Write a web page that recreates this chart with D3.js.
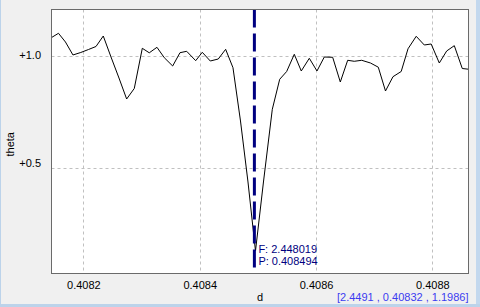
<!DOCTYPE html>
<html><head><meta charset="utf-8">
<script src="https://cdn.jsdelivr.net/npm/d3@7"></script>
<style>
html,body{margin:0;padding:0;background:#f0f0f0;}
svg{display:block;}
text{font-family:"Liberation Sans",Arial,sans-serif;font-size:11px;}
</style></head>
<body>
<svg id="c" width="480" height="307"></svg>
<script>
// period grid (d) and theta values
const dValues = [0.4081448,0.4081572,0.4081692,0.4081821,0.4081955,0.4082088,0.4082217,0.4082342,0.4082475,0.4082612,
0.4082744,0.4082875,0.4083013,0.4083133,0.4083265,0.4083391,0.4083535,0.4083661,0.4083776,0.4083931,
0.4084044,0.4084182,0.4084319,0.4084446,0.4084572,0.4084701,0.4084830,0.4084959,0.4085096,0.4085248,
0.4085375,0.4085495,0.4085626,0.4085746,0.4085884,0.4086016,0.4086142,0.4086286,0.4086417,0.4086544,
0.4086657,0.4086785,0.4086936,0.4087070,0.4087194,0.4087323,0.4087464,0.4087581,0.4087722,0.4087861,
0.4087979,0.4088119,0.4088246,0.4088377,0.4088514,0.4088617];
const thetaValues = [1.0815,1.1011,1.0623,1.0045,1.0156,1.0289,1.0423,1.0890,0.9955,0.9020,
0.8085,0.8553,1.0343,1.0142,1.0387,0.9924,0.9555,1.0147,1.0209,0.9791,
1.0165,0.9777,0.9866,1.0298,0.9479,0.7106,0.4390,0.1318,0.4390,0.7627,
0.8963,0.9310,1.0076,0.9332,0.9898,0.9332,0.9955,0.9942,0.8842,0.9809,
0.9764,0.9809,0.9688,0.9501,0.8442,0.9078,0.9310,1.0321,1.0877,1.0490,
1.0534,0.9688,1.0223,1.0459,0.9443,0.9412];
const xTicks = [0.4082,0.4084,0.4086,0.4088];
const yTicks = [0.5,1.0];
const xDomain = [0.4081452,0.4088621];
const yDomain = [0.0316,1.2070];
const peakP = 0.408494;
const peakF = 2.448019;
const xLabel = "d";
const yLabel = "theta";
const statusText = "[2.4491 , 0.40832 , 1.1986]";

const svg = d3.select("#c");
const L=51.5, R=468.5, T=9.5, B=273.5;
const x = d3.scaleLinear().domain(xDomain).range([L,R]);
const y = d3.scaleLinear().domain(yDomain).range([B,T]);

// window frame accents
svg.append("rect").attr("x",0).attr("y",0).attr("width",480).attr("height",307).attr("fill","#f0f0f0");
svg.append("rect").attr("x",0).attr("y",0).attr("width",1).attr("height",307).attr("fill","#bcd3ea");
svg.append("rect").attr("x",476).attr("y",0).attr("width",4).attr("height",307).attr("fill","#c3d8ee");
svg.append("rect").attr("x",0).attr("y",304).attr("width",480).attr("height",3).attr("fill","#bcd3ea");

// plot area
svg.append("rect").attr("x",L).attr("y",T).attr("width",R-L).attr("height",B-T).attr("fill","#ffffff");

svg.append("defs").append("clipPath").attr("id","clip")
  .append("rect").attr("x",L).attr("y",T).attr("width",R-L).attr("height",B-T);

// grid
const grid = svg.append("g").attr("stroke","#c0c0c0").attr("stroke-dasharray","3,3").attr("stroke-width",1);
grid.selectAll("line.v").data(xTicks).join("line")
  .attr("x1",d=>Math.round(x(d))+0.5).attr("x2",d=>Math.round(x(d))+0.5).attr("y1",T).attr("y2",B);
grid.selectAll("line.h").data(yTicks).join("line")
  .attr("y1",d=>Math.round(y(d))+0.5).attr("y2",d=>Math.round(y(d))+0.5).attr("x1",L).attr("x2",R);

// line
const pts = dValues.map((d,i)=>[d,thetaValues[i]]);
svg.append("path").attr("clip-path","url(#clip)")
  .attr("d", d3.line().x(p=>x(p[0])).y(p=>y(p[1]))(pts))
  .attr("fill","none").attr("stroke","#000").attr("stroke-width",1);

// peak marker
svg.append("line").attr("clip-path","url(#clip)")
  .attr("x1",x(peakP)).attr("x2",x(peakP)).attr("y1",T).attr("y2",B)
  .attr("stroke","#000080").attr("stroke-width",3).attr("stroke-dasharray","18,6");
svg.append("text").attr("x",x(peakP)+4).attr("y",252.5).attr("fill","#000080").text("F: "+peakF.toFixed(6));
svg.append("text").attr("x",x(peakP)+4).attr("y",264.5).attr("fill","#000080").text("P: "+peakP.toFixed(6));

// border
svg.append("rect").attr("x",L).attr("y",T).attr("width",R-L).attr("height",B-T)
  .attr("fill","none").attr("stroke","#6a6a6a").attr("stroke-width",1);

// x axis
const xa = svg.append("g").attr("transform",`translate(0,${B})`)
  .call(d3.axisBottom(x).tickValues(xTicks).tickSize(0).tickPadding(0).tickFormat(d3.format(".4f")));
xa.select(".domain").remove();
xa.selectAll("text").attr("dy",null).attr("y",15.5).attr("fill","#000").style("font-size","11px").style("font-family","Liberation Sans, Arial, sans-serif");

// y axis
const ya = svg.append("g").attr("transform",`translate(41,0)`)
  .call(d3.axisLeft(y).tickValues(yTicks).tickSize(0).tickPadding(0).tickFormat(d=>"+"+d.toFixed(1)));
ya.select(".domain").remove();
ya.selectAll("text").attr("x",0).attr("dy",null)
  .attr("y",d=> d===1.0 ? 3 : -1.5)
  .attr("fill","#000").style("font-size","11px").style("font-family","Liberation Sans, Arial, sans-serif");

// labels
svg.append("text").attr("transform","translate(13.5,144.3) rotate(-90)").attr("text-anchor","middle").attr("fill","#000").text(yLabel);
svg.append("text").attr("x",260).attr("y",301).attr("text-anchor","middle").attr("fill","#000").text(xLabel);
svg.append("text").attr("x",468.5).attr("y",301).attr("text-anchor","end").attr("fill","#3c3cf0").text(statusText);
</script>
</body></html>
